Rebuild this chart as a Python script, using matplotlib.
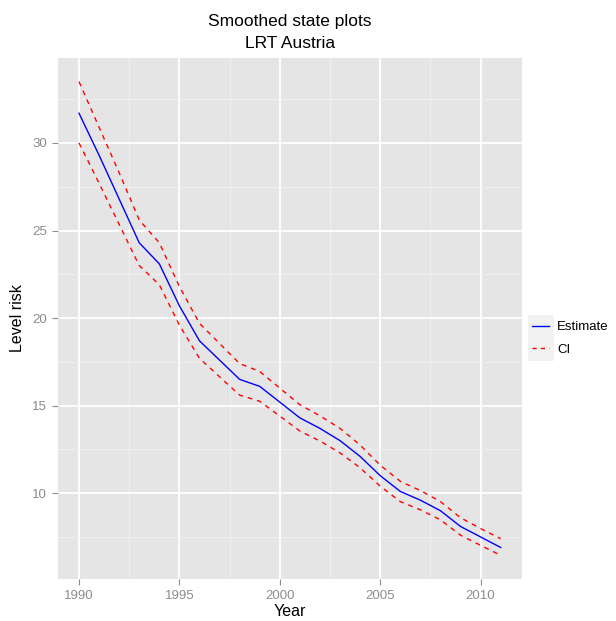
import numpy as np
import matplotlib
matplotlib.use("Agg")
import matplotlib.pyplot as plt
from matplotlib.lines import Line2D
from matplotlib.patches import Rectangle
from matplotlib.ticker import MultipleLocator

plt.rcParams['font.family'] = ['Liberation Sans', 'DejaVu Sans']

# Values.
years = list(range(1990, 2012))
estimate = [31.7, 29.3, 26.8, 24.3, 23.1, 20.7, 18.7, 17.6, 16.5, 16.1, 15.2,
            14.3, 13.7, 13.0, 12.1, 11.0, 10.1, 9.6, 9.0, 8.1, 7.5, 6.9]
ci_upper = [33.5, 30.9, 28.3, 25.6, 24.3, 21.8, 19.7, 18.55, 17.4, 16.95, 16.0,
            15.05, 14.42, 13.7, 12.75, 11.6, 10.68, 10.15, 9.52, 8.6, 7.98, 7.4]
ci_lower = [30.0, 27.7, 25.35, 23.0, 21.9, 19.6, 17.7, 16.65, 15.6, 15.25, 14.4,
            13.55, 12.98, 12.3, 11.45, 10.4, 9.52, 9.05, 8.48, 7.6, 7.02, 6.45]

fig = plt.figure(figsize=(6.16, 6.21), dpi=100)
ax = fig.add_axes([0.094, 0.0676, 0.753, 0.839])

ax.set_facecolor('#E5E5E5')
for s in ax.spines.values():
    s.set_visible(False)

ax.plot(years, estimate, color='#0000FF', lw=1.0, zorder=3)
ax.plot(years, ci_upper, color='#FF0000', lw=1.0, ls=(0, (3.5, 3.5)), zorder=3)
ax.plot(years, ci_lower, color='#FF0000', lw=1.0, ls=(0, (3.5, 3.5)), zorder=3)

lo = min(ci_lower)
hi = max(ci_upper)
pad = (hi - lo) * 0.05
ax.set_ylim(lo - pad, hi + pad)
ax.set_xlim(1990 - 21 * 0.05, 2011 + 21 * 0.05)

ax.xaxis.set_major_locator(MultipleLocator(5))
ax.xaxis.set_minor_locator(MultipleLocator(2.5))
ax.yaxis.set_major_locator(MultipleLocator(5))
ax.yaxis.set_minor_locator(MultipleLocator(2.5))
ax.grid(which='major', color='white', lw=1.3, zorder=0)
ax.grid(which='minor', color='#F2F2F2', lw=0.6, zorder=0)
ax.set_axisbelow(True)
ax.tick_params(which='major', length=4, width=0.8, color='#8C8C8C',
               labelcolor='#8C8C8C', labelsize=9.5, pad=4)
ax.tick_params(which='minor', length=0)

ax.set_xlabel('Year', fontsize=11.5, labelpad=1)
ax.set_ylabel('Level risk', fontsize=11.5, labelpad=5)
ax.set_title('Smoothed state plots\nLRT Austria', fontsize=12.5,
             linespacing=1.6, pad=7)

# legend key backgrounds (ggplot style)
for yb in (0.456, 0.419):
    fig.patches.append(Rectangle((0.857, yb), 0.042, 0.036, transform=fig.transFigure,
                                 facecolor='#F2F2F2', edgecolor='none'))

handles = [Line2D([], [], color='#0000FF', lw=1.0),
           Line2D([], [], color='#FF0000', lw=1.0, ls=(0, (3, 3)))]
leg = fig.legend(handles, ['Estimate', 'CI'], loc='center left',
                 bbox_to_anchor=(0.864, 0.455), frameon=False, fontsize=9.5,
                 borderpad=0, borderaxespad=0,
                 handlelength=1.3, handletextpad=0.6, labelspacing=0.75)

fig.savefig('out.png', dpi=100, facecolor='white')
